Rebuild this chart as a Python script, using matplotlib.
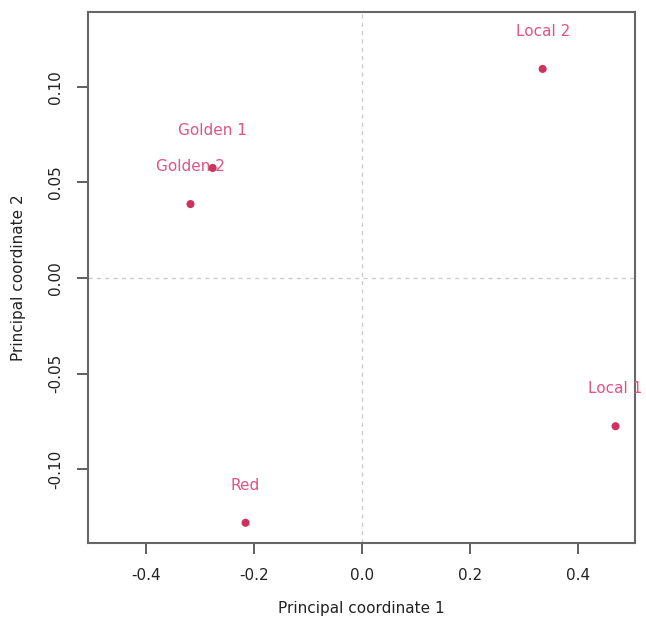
import matplotlib
matplotlib.use("Agg")
import matplotlib.pyplot as plt

# PCoA coordinates
names = ["Golden 1", "Golden 2", "Local 1", "Local 2", "Red"]
pc1 = [-0.276, -0.317, 0.470, 0.335, -0.215]
pc2 = [0.0576, 0.0387, -0.0775, 0.1094, -0.128]

point_col = "#cc3360"
text_col = "#dd5585"

fig = plt.figure(figsize=(6.46, 6.18), dpi=100)
ax = fig.add_axes([0.136, 0.121, 0.847, 0.860])

ax.axhline(0, color="#cccccc", ls=(0, (3, 3)), lw=1)
ax.axvline(0, color="#cccccc", ls=(0, (3, 3)), lw=1)

ax.scatter(pc1, pc2, s=34, color=point_col, zorder=3, edgecolors="none")
for n, x, y in zip(names, pc1, pc2):
    ax.annotate(n, (x, y), xytext=(0, 27), textcoords="offset points",
                ha="center", va="center", color=text_col, fontsize=11)

ax.set_xlim(-0.507, 0.506)
ax.set_ylim(-0.1387, 0.1393)
ax.set_xticks([-0.4, -0.2, 0.0, 0.2, 0.4])
ax.set_xticklabels(["-0.4", "-0.2", "0.0", "0.2", "0.4"])
ax.set_yticks([-0.10, -0.05, 0.0, 0.05, 0.10])
ax.set_yticklabels(["-0.10", "-0.05", "0.00", "0.05", "0.10"], rotation=90, va="center")

for s in ax.spines.values():
    s.set_color("#666666")
    s.set_linewidth(1.5)
ax.tick_params(direction="out", length=8, width=1.2, color="#444444",
               labelsize=11, labelcolor="#222222", pad=10)

ax.set_xlabel("Principal coordinate 1", fontsize=11, color="#222222", labelpad=13)
ax.set_ylabel("Principal coordinate 2", fontsize=11, color="#222222", labelpad=16)

fig.savefig("out.png", dpi=100)
